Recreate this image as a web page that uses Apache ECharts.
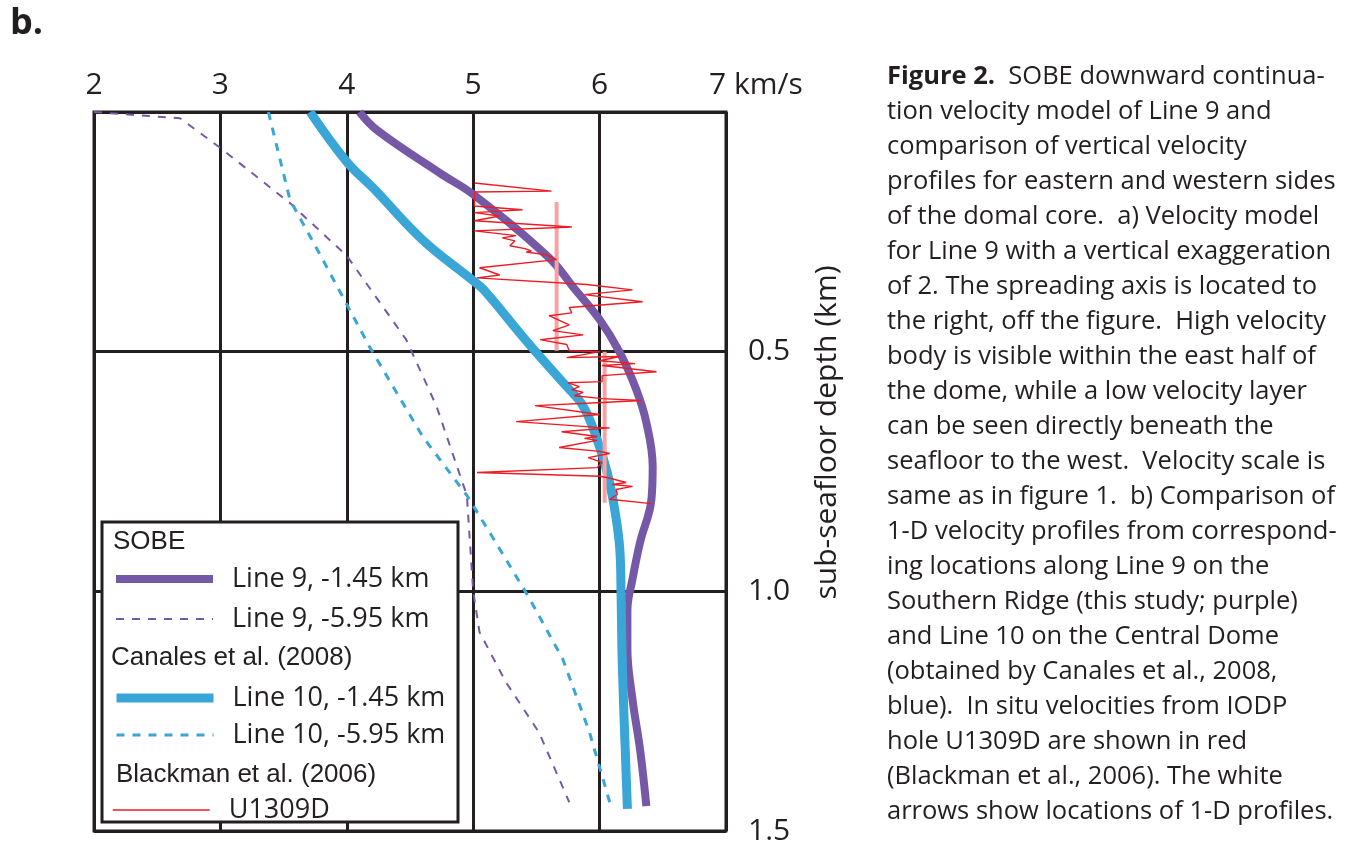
<!DOCTYPE html>
<html>
<head>
<meta charset="utf-8">
<script src="https://cdn.jsdelivr.net/npm/echarts@6/dist/echarts.min.js"></script>
<style>
  html, body { margin: 0; padding: 0; background: #fff; }
  #wrap { position: relative; width: 1370px; height: 846px; }
  #chart { position: absolute; left: 0; top: 0; width: 1370px; height: 846px; }
  #caption {
    position: absolute; left: 887px; top: 57px;
    font-family: "Open Sans", sans-serif; font-size: 25.5px; line-height: 35px;
    color: #231f20; white-space: nowrap;
  }
  #caption b { font-weight: 700; }
</style>
</head>
<body>
<div id="wrap">
  <div id="chart"></div>
  <div id="caption">
    <b>Figure 2.</b>&nbsp; SOBE downward continua-<br>
    tion velocity model of Line 9 and<br>
    comparison of vertical velocity<br>
    profiles for eastern and western sides<br>
    of the domal core.&nbsp; a) Velocity model<br>
    for Line 9 with a vertical exaggeration<br>
    of 2. The spreading axis is located to<br>
    the right, off the figure.&nbsp; High velocity<br>
    body is visible within the east half of<br>
    the dome, while a low velocity layer<br>
    can be seen directly beneath the<br>
    seafloor to the west.&nbsp; Velocity scale is<br>
    same as in figure 1.&nbsp; b) Comparison of<br>
    1-D velocity profiles from correspond-<br>
    ing locations along Line 9 on the<br>
    Southern Ridge (this study; purple)<br>
    and Line 10 on the Central Dome<br>
    (obtained by Canales et al., 2008,<br>
    blue).&nbsp; In situ velocities from IODP<br>
    hole U1309D are shown in red<br>
    (Blackman et al., 2006). The white<br>
    arrows show locations of 1-D profiles.
  </div>
</div>
<script>
// velocity (km/s), depth (km)
const velocityTicks = [2, 3, 4, 5, 6, 7];
const depthTicks = [0, 0.5, 1.0, 1.5];

// SOBE, Line 9, -1.45 km
const line9Near = [
  [4.10, 0.0], [4.24, 0.038], [4.74, 0.128], [5.0, 0.172], [5.60, 0.304],
  [5.79, 0.365], [6.0, 0.433], [6.16, 0.502], [6.29, 0.579], [6.37, 0.648],
  [6.42, 0.74], [6.41, 0.808], [6.32, 0.898], [6.26, 0.975], [6.22, 1.04],
  [6.22, 1.12], [6.26, 1.225], [6.32, 1.33], [6.37, 1.448]
];
// SOBE, Line 9, -5.95 km
const line9Far = [
  [2.0, 0.0], [2.68, 0.013], [3.0, 0.075], [3.55, 0.19], [4.0, 0.30],
  [4.47, 0.475], [4.71, 0.614], [4.95, 0.80], [4.99, 0.96], [5.0, 1.0],
  [5.05, 1.085], [5.26, 1.19], [5.52, 1.294], [5.76, 1.44]
];
// Canales et al. (2008), Line 10, -1.45 km
const line10Near = [
  [3.71, 0.0], [4.0, 0.104], [4.21, 0.159], [4.6, 0.267], [5.0, 0.352],
  [5.08, 0.37], [5.39, 0.468], [5.55, 0.517], [5.74, 0.573], [5.87, 0.614],
  [5.98, 0.683], [6.06, 0.752], [6.12, 0.83], [6.16, 0.913], [6.17, 1.01],
  [6.18, 1.156], [6.22, 1.454]
];
// Canales et al. (2008), Line 10, -5.95 km
const line10Far = [
  [3.38, 0.0], [3.55, 0.183], [3.81, 0.308], [4.18, 0.49], [4.6, 0.677],
  [4.95, 0.80], [5.13, 0.877], [5.45, 1.017], [5.71, 1.142], [5.92, 1.294],
  [6.08, 1.44]
];
// Blackman et al. (2006), U1309D in situ log
const u1309d = [
  [5.01, 0.148], [5.62, 0.165], [5.01, 0.167], [5.01, 0.196], [5.39, 0.204],
  [5.01, 0.210], [5.21, 0.217], [5.01, 0.227], [5.78, 0.240], [5.01, 0.248],
  [5.34, 0.258], [5.23, 0.2625], [5.33, 0.269], [5.29, 0.279], [5.41, 0.285],
  [5.46, 0.290], [5.42, 0.292], [5.58, 0.298], [5.66, 0.308], [5.05, 0.325],
  [5.21, 0.340], [5.03, 0.346], [5.90, 0.360], [6.26, 0.371], [5.88, 0.381],
  [6.34, 0.396], [5.76, 0.408], [5.78, 0.419], [5.60, 0.425], [5.76, 0.444],
  [5.63, 0.456], [5.87, 0.465], [5.53, 0.475], [5.74, 0.485], [5.76, 0.498],
  [6.00, 0.500], [5.74, 0.5125], [6.16, 0.510], [6.00, 0.519], [6.28, 0.525],
  [6.02, 0.529], [6.45, 0.542], [6.02, 0.550], [6.02, 0.5625], [5.75, 0.565],
  [5.84, 0.573], [5.78, 0.579], [5.87, 0.585], [5.80, 0.592], [6.02, 0.598],
  [6.33, 0.602], [6.02, 0.606], [5.49, 0.6125], [6.00, 0.631], [5.34, 0.646],
  [5.98, 0.658], [6.08, 0.659], [5.70, 0.667], [5.98, 0.677], [5.88, 0.681],
  [5.98, 0.685], [5.68, 0.700], [6.00, 0.708], [6.08, 0.7125], [5.91, 0.721],
  [6.02, 0.731], [5.98, 0.742], [5.03, 0.752], [6.00, 0.760], [6.06, 0.7625],
  [6.21, 0.773], [6.10, 0.777], [6.26, 0.781], [6.13, 0.7875], [6.14, 0.798],
  [6.08, 0.808], [6.41, 0.817]
];
// U1309D interval averages
const u1309dAvgUpper = [[5.66, 0.1875], [5.66, 0.498]];
const u1309dAvgLower = [[6.04, 0.5], [6.04, 0.815]];

const ink = "#231f20";
const purple = "#7559a6";
const blue = "#3aa5d7";
const red = "#ed1c24";
const pink = "#f5a3a3";
const labelFont = "Open Sans";
const legendFont = "Liberation Sans";

const chart = echarts.init(document.getElementById("chart"));

const lineSeries = (name, data, color, width, type, smooth, z) => ({
  name: name,
  type: "line",
  data: data,
  showSymbol: false,
  symbol: "none",
  smooth: smooth,
  z: z,
  lineStyle: { color: color, width: width, type: type, cap: "butt" },
  itemStyle: { color: color },
  silent: true,
});

// one legend block per group so the group headings can sit between them
const legendBlock = (names, top, gap) => ({
  data: names,
  orient: "vertical",
  left: 112,
  top: top,
  padding: 0,
  itemGap: gap,
  itemWidth: 97,
  itemHeight: 14,
  selectedMode: false,
  z: 120,
  itemStyle: { opacity: 0 },
  lineStyle: { width: "inherit", type: "inherit" },
  textStyle: {
    fontFamily: labelFont,
    fontSize: 27,
    color: ink,
    lineHeight: 32,
    padding: [0, 0, 0, 14],
  },
});

chart.setOption({
  backgroundColor: "#fff",
  animation: false,
  grid: {
    left: 94,
    top: 112,
    width: 632,
    height: 720,
    show: true,
    borderColor: ink,
    borderWidth: 3,
    backgroundColor: "transparent",
  },
  xAxis: {
    type: "value",
    position: "top",
    min: velocityTicks[0],
    max: velocityTicks[velocityTicks.length - 1],
    interval: 1,
    axisLine: { show: false },
    axisTick: { show: false },
    splitLine: { show: true, lineStyle: { color: ink, width: 3 } },
    axisLabel: {
      margin: 12,
      fontFamily: labelFont,
      fontSize: 30,
      color: ink,
      formatter: (v) => (v === 7 ? "{pad|}7 km/s" : String(v)),
      rich: { pad: { width: 60 } },
    },
  },
  yAxis: {
    type: "value",
    position: "right",
    inverse: true,
    min: depthTicks[0],
    max: depthTicks[depthTicks.length - 1],
    interval: 0.5,
    axisLine: { show: false },
    axisTick: { show: false },
    splitLine: { show: true, lineStyle: { color: ink, width: 3 } },
    axisLabel: {
      margin: 22,
      fontFamily: labelFont,
      fontSize: 30,
      color: ink,
      formatter: (v) => (v === 0 ? "" : v.toFixed(1)),
    },
    name: "sub-seafloor depth (km)",
    nameLocation: "middle",
    nameRotate: 90,
    nameGap: 86,
    nameTextStyle: {
      fontFamily: labelFont,
      fontSize: 30,
      color: ink,
      padding: [0, 0, 0, 78],
    },
  },
  legend: [
    legendBlock(["Line 9, -1.45 km", "Line 9, -5.95 km"], 563, 8),
    legendBlock(["Line 10, -1.45 km", "Line 10, -5.95 km"], 682, 5),
    legendBlock(["U1309D"], 794, 0),
  ],
  graphic: [
    {
      type: "text",
      left: 10,
      top: 6,
      style: { text: "b.", font: "bold 36px 'Open Sans'", fill: ink },
    },
    {
      type: "rect",
      z: 100,
      shape: { x: 102, y: 522, width: 356, height: 300 },
      style: { fill: "#fff", stroke: ink, lineWidth: 3 },
    },
    {
      type: "text",
      z: 101,
      x: 113,
      y: 542,
      style: { text: "SOBE", font: "26px '" + legendFont + "'", fill: ink, verticalAlign: "middle" },
    },
    {
      type: "text",
      z: 101,
      x: 111,
      y: 658,
      style: { text: "Canales et al. (2008)", font: "26px '" + legendFont + "'", fill: ink, verticalAlign: "middle" },
    },
    {
      type: "text",
      z: 101,
      x: 116,
      y: 775,
      style: { text: "Blackman et al. (2006)", font: "26px '" + legendFont + "'", fill: ink, verticalAlign: "middle" },
    },
  ],
  series: [
    lineSeries("Line 9, -5.95 km", line9Far, purple, 2, [8, 8], false, 2),
    lineSeries("Line 10, -5.95 km", line10Far, blue, 3, [8, 8], false, 2),
    lineSeries("Line 9, -1.45 km", line9Near, purple, 8, "solid", 0.4, 3),
    lineSeries("Line 10, -1.45 km", line10Near, blue, 9, "solid", 0.4, 3),
    lineSeries("U1309D avg upper", u1309dAvgUpper, pink, 4, "solid", false, 4),
    lineSeries("U1309D avg lower", u1309dAvgLower, pink, 4, "solid", false, 4),
    lineSeries("U1309D", u1309d, red, 1.4, "solid", false, 5),
  ],
});
</script>
</body>
</html>
